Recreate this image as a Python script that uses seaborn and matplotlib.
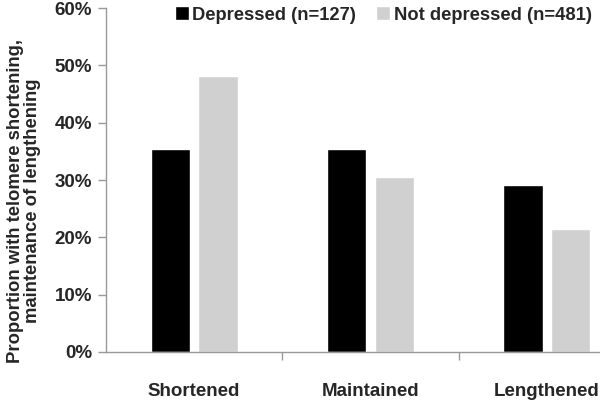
import matplotlib
matplotlib.use("Agg")
import matplotlib.pyplot as plt
import seaborn as sns
import pandas as pd
from matplotlib.ticker import FuncFormatter, FixedLocator

categories = ["Shortened", "Maintained", "Lengthened"]
groups = ["Depressed (n=127)", "Not depressed (n=481)"]
depressed = [35.4, 35.4, 29.1]
not_depressed = [48.1, 30.6, 21.4]
yticks = [0, 10, 20, 30, 40, 50, 60]

df = pd.DataFrame({
    "category": categories * 2,
    "group": [groups[0]] * 3 + [groups[1]] * 3,
    "value": depressed + not_depressed,
})

sns.set_theme(style="white")
plt.rcParams["font.family"] = ["Liberation Sans", "DejaVu Sans"]
plt.rcParams["font.weight"] = "bold"

fig = plt.figure(figsize=(6, 4.01), dpi=100)
ax = fig.add_axes([106 / 600, 49 / 401, 529 / 600, 344 / 401])

sns.barplot(data=df, x="category", y="value", hue="group", order=categories,
            hue_order=groups, palette=["#000000", "#d0d0d0"], width=0.54,
            gap=0.17, saturation=1, ax=ax, legend=True)

ax.set_xlim(-0.5, 2.5)
ax.set_ylim(0, 60)
ax.set_yticks(yticks)
ax.yaxis.set_major_formatter(FuncFormatter(lambda v, p: f"{int(v)}%"))
ax.tick_params(axis="y", length=6, width=1, color="#999999", pad=4,
               labelsize=13.5, left=True)
for lab in ax.get_yticklabels():
    lab.set_fontweight("bold")

ax.set_xticks(range(3))
ax.set_xticklabels(categories, fontsize=13.5, fontweight="bold")
ax.tick_params(axis="x", which="major", length=0, pad=22, bottom=True)
ax.xaxis.set_minor_locator(FixedLocator([0.5, 1.5]))
ax.tick_params(axis="x", which="minor", length=6, width=1, color="#999999",
               bottom=True, direction="out")

for side in ["top", "right"]:
    ax.spines[side].set_visible(False)
for side in ["left", "bottom"]:
    ax.spines[side].set_color("#999999")
    ax.spines[side].set_linewidth(1)

ax.set_xlabel("")
ax.set_ylabel("Proportion with telomere shortening,\nmaintenance of lengthening",
              fontsize=13.3, fontweight="bold", linespacing=1.0,
              multialignment="center")
ax.yaxis.set_label_coords(-0.122, 0.44)

handles, labels = ax.get_legend_handles_labels()
ax.legend(handles, labels, loc="center left", bbox_to_anchor=(175 / 600, 1 - 15 / 401),
          bbox_transform=fig.transFigure, ncol=2, frameon=False,
          prop={"size": 13.2, "weight": "bold"}, handlelength=0.75,
          handleheight=0.75, handletextpad=0.2, columnspacing=1.1,
          borderpad=0, borderaxespad=0)

fig.savefig("out.png", dpi=100)
